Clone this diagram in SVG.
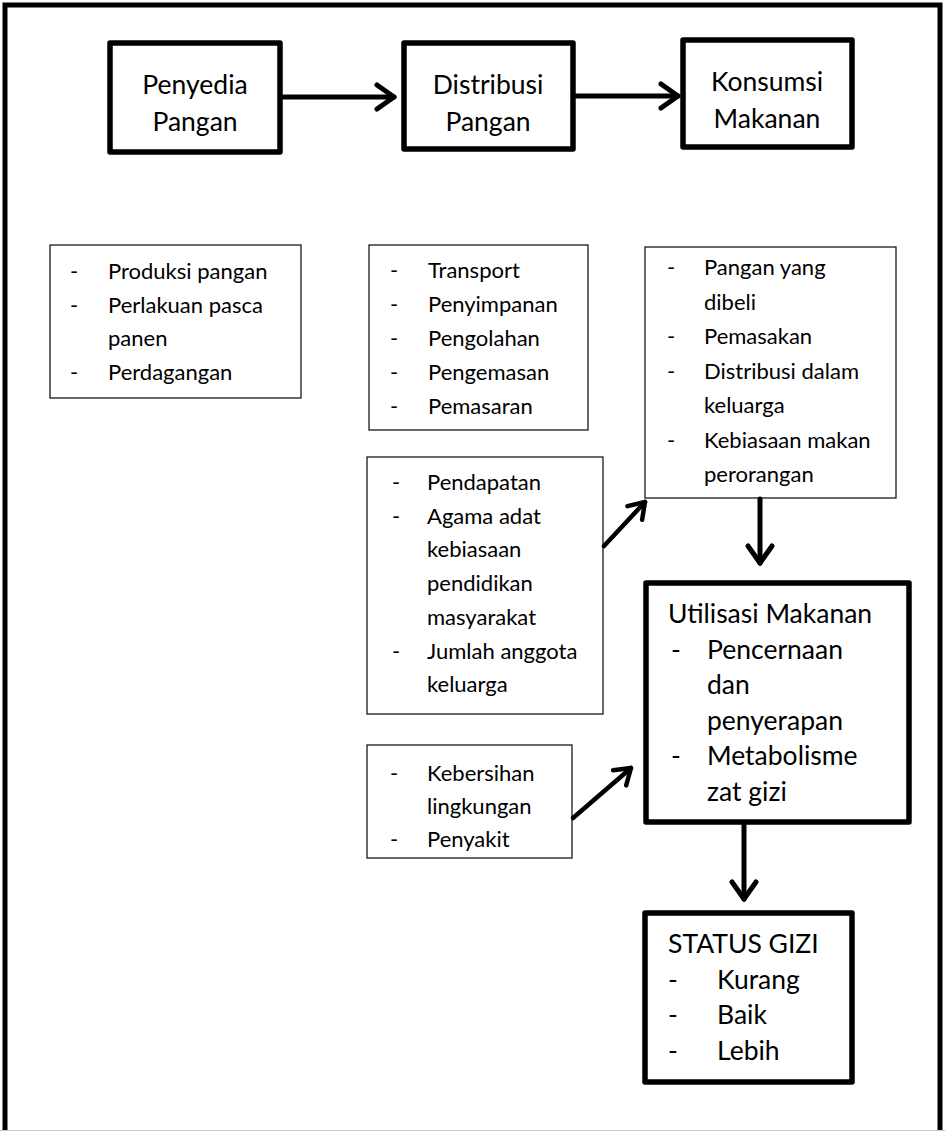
<svg xmlns="http://www.w3.org/2000/svg" width="945" height="1131" viewBox="0 0 945 1131">
<style>
.frame{fill:#fff;stroke:#000;stroke-width:5}
.thick{fill:#fff;stroke:#000;stroke-width:5.5;stroke-linejoin:round}
.thin{fill:#fff;stroke:#1a1a1a;stroke-width:1.3}
text{font-family:Lato,Carlito,"Liberation Sans",sans-serif;fill:#000}
.s{font-size:22px}
.l{font-size:26.5px}
.c{text-anchor:middle}
.conn line{stroke:#000;stroke-width:5;stroke-linecap:round}
.conn line.d{stroke-width:4.5}
</style>
<defs>
<marker id="head" markerUnits="userSpaceOnUse" markerWidth="40" markerHeight="40" refX="0" refY="0" orient="auto" overflow="visible">
<path d="M -17 -12 L 0 0 L -17 12" fill="none" stroke="#000" stroke-width="5" stroke-linecap="round" stroke-linejoin="round"/>
</marker>
<marker id="headd" markerUnits="userSpaceOnUse" markerWidth="40" markerHeight="40" refX="0" refY="0" orient="auto" overflow="visible">
<path d="M -15 -10 L 0 0 L -15 10" fill="none" stroke="#000" stroke-width="4.5" stroke-linecap="round" stroke-linejoin="round"/>
</marker>
</defs>
<rect x="0" y="0" width="945" height="1131" fill="#fff"/>
<rect class="frame" x="5" y="5" width="935" height="1140"/>
<line x1="0" y1="1130.5" x2="945" y2="1130.5" stroke="#c8c8c8" stroke-width="1"/>

<g id="penyedia">
<rect class="thick" x="110" y="43" width="170" height="109"/>
<text class="l c" x="195" y="94">Penyedia</text>
<text class="l c" x="195" y="131">Pangan</text>
</g>
<g id="distribusi">
<rect class="thick" x="404" y="43" width="169" height="106"/>
<text class="l c" x="488" y="94">Distribusi</text>
<text class="l c" x="488" y="131">Pangan</text>
</g>
<g id="konsumsi">
<rect class="thick" x="683" y="40" width="169" height="107"/>
<text class="l c" x="767" y="91">Konsumsi</text>
<text class="l c" x="767" y="128">Makanan</text>
</g>

<g id="list-penyedia">
<rect class="thin" x="50" y="245" width="251" height="153"/>
<text class="s" x="70" y="279">-</text><text class="s" x="108" y="279">Produksi pangan</text>
<text class="s" x="70" y="312.7">-</text><text class="s" x="108" y="312.7">Perlakuan pasca</text>
<text class="s" x="108" y="346.4">panen</text>
<text class="s" x="70" y="380">-</text><text class="s" x="108" y="380">Perdagangan</text>
</g>
<g id="list-distribusi">
<rect class="thin" x="369" y="245" width="219" height="185"/>
<text class="s" x="390" y="278">-</text><text class="s" x="428" y="278">Transport</text>
<text class="s" x="390" y="312">-</text><text class="s" x="428" y="312">Penyimpanan</text>
<text class="s" x="390" y="346">-</text><text class="s" x="428" y="346">Pengolahan</text>
<text class="s" x="390" y="380">-</text><text class="s" x="428" y="380">Pengemasan</text>
<text class="s" x="390" y="414">-</text><text class="s" x="428" y="414">Pemasaran</text>
</g>
<g id="list-konsumsi">
<rect class="thin" x="645" y="247" width="251" height="251"/>
<text class="s" x="667" y="275">-</text><text class="s" x="704" y="275">Pangan yang</text>
<text class="s" x="704" y="309.5">dibeli</text>
<text class="s" x="667" y="344">-</text><text class="s" x="704" y="344">Pemasakan</text>
<text class="s" x="667" y="378.5">-</text><text class="s" x="704" y="378.5">Distribusi dalam</text>
<text class="s" x="704" y="413">keluarga</text>
<text class="s" x="667" y="447.5">-</text><text class="s" x="704" y="447.5">Kebiasaan makan</text>
<text class="s" x="704" y="482">perorangan</text>
</g>
<g id="sosial">
<rect class="thin" x="367" y="457" width="236" height="257"/>
<text class="s" x="392" y="490">-</text><text class="s" x="427" y="490">Pendapatan</text>
<text class="s" x="392" y="523.7">-</text><text class="s" x="427" y="523.7">Agama adat</text>
<text class="s" x="427" y="557.4">kebiasaan</text>
<text class="s" x="427" y="591.1">pendidikan</text>
<text class="s" x="427" y="624.8">masyarakat</text>
<text class="s" x="392" y="658.5">-</text><text class="s" x="427" y="658.5">Jumlah anggota</text>
<text class="s" x="427" y="692.2">keluarga</text>
</g>
<g id="lingkungan">
<rect class="thin" x="367" y="745" width="205" height="113"/>
<text class="s" x="390" y="781">-</text><text class="s" x="427" y="781">Kebersihan</text>
<text class="s" x="427" y="814">lingkungan</text>
<text class="s" x="390" y="847">-</text><text class="s" x="427" y="847">Penyakit</text>
</g>
<g id="utilisasi">
<rect class="thick" x="646" y="583" width="263" height="239"/>
<text class="l" x="668" y="623">Utilisasi Makanan</text>
<text class="l" x="671" y="658.5">-</text><text class="l" x="707" y="658.5">Pencernaan</text>
<text class="l" x="707" y="694">dan</text>
<text class="l" x="707" y="729.5">penyerapan</text>
<text class="l" x="671" y="765">-</text><text class="l" x="707" y="765">Metabolisme</text>
<text class="l" x="707" y="800.5">zat gizi</text>
</g>
<g id="status">
<rect class="thick" x="645" y="913" width="207" height="169"/>
<text class="l" x="668" y="953">STATUS GIZI</text>
<text class="l" x="668" y="989">-</text><text class="l" x="717" y="989">Kurang</text>
<text class="l" x="668" y="1024">-</text><text class="l" x="717" y="1024">Baik</text>
<text class="l" x="668" y="1060">-</text><text class="l" x="717" y="1060">Lebih</text>
</g>

<g id="connectors" class="conn">
<line x1="283" y1="97" x2="394" y2="97" marker-end="url(#head)"/>
<line x1="576" y1="96" x2="678" y2="96" marker-end="url(#head)"/>
<line class="d" x1="604" y1="546" x2="645" y2="502" marker-end="url(#headd)"/>
<line class="d" x1="573" y1="818" x2="631" y2="768" marker-end="url(#headd)"/>
<line x1="760" y1="499" x2="760" y2="563" marker-end="url(#head)"/>
<line x1="744" y1="823" x2="744" y2="899" marker-end="url(#head)"/>
</g>
</svg>
